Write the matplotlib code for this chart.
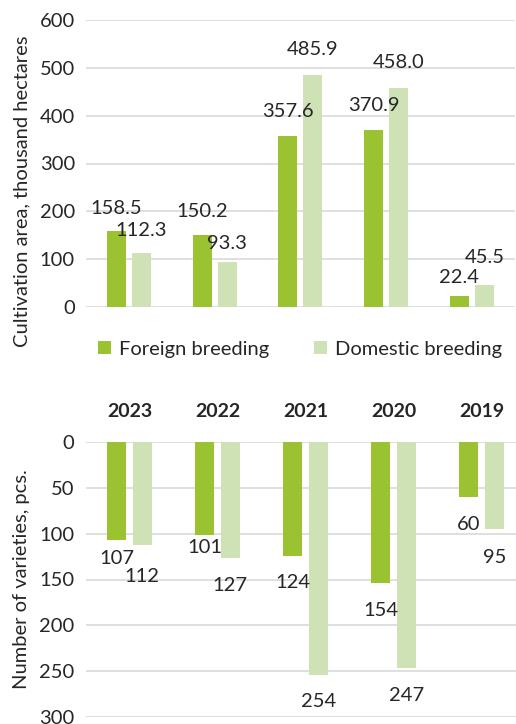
import matplotlib.pyplot as plt
import numpy as np

plt.rcParams['font.family'] = ['Lato', 'DejaVu Sans']

years = ['2023', '2022', '2021', '2020', '2019']
area_foreign = [158.5, 150.2, 357.6, 370.9, 22.4]
area_domestic = [112.3, 93.3, 485.9, 458.0, 45.5]
var_foreign = [107, 101, 124, 154, 60]
var_domestic = [112, 127, 254, 247, 95]

c_foreign = '#9bc231'
c_domestic = '#cfe2b5'
c_grid = '#d9d9d9'
c_text = '#262626'
fs = 14.5

# label offsets in pixels (label centre relative to bar end)
top_off_f = [23, 24, 24, 24, 19]
top_off_d = [23, 19, 25, 25, 28]
bot_off_f = [18, 13, 27, 27, 27]
bot_off_d = [32, 27, 27, 27, 28]

fig = plt.figure(figsize=(5.16, 7.24), dpi=100)
ax1 = fig.add_axes([86 / 516, 1 - 307 / 724, 428.75 / 516, 287 / 724])
ax2 = fig.add_axes([85.5 / 516, 1 - 717 / 724, 440 / 516, 275 / 724])

x = np.arange(len(years))
w = 0.22
d = 0.146

for ax in (ax1, ax2):
    for s in ax.spines.values():
        s.set_visible(False)
    ax.set_axisbelow(True)
    ax.grid(axis='y', color=c_grid, lw=1.2)
    ax.tick_params(length=0, labelsize=fs, labelcolor=c_text, pad=8)
    ax.set_xlim(-0.5, len(years) - 0.5)

# top chart
b1 = ax1.bar(x - d, area_foreign, w, color=c_foreign, label='Foreign breeding')
b2 = ax1.bar(x + d, area_domestic, w, color=c_domestic, label='Domestic breeding')
ax1.set_ylim(0, 600)
ax1.set_yticks(range(0, 601, 100))
ax1.set_xticks([])
ax1.set_ylabel('Cultivation area, thousand hectares', fontsize=fs, color=c_text)
ax1.yaxis.set_label_coords((30 - 86) / 428.75, (307 - 191) / 287)
for i in range(len(years)):
    ax1.annotate(f'{area_foreign[i]:.1f}', (x[i] - d, area_foreign[i]), xytext=(0, top_off_f[i]),
                 textcoords='offset pixels', ha='center', va='center', fontsize=fs, color=c_text)
    ax1.annotate(f'{area_domestic[i]:.1f}', (x[i] + d, area_domestic[i]), xytext=(0, top_off_d[i]),
                 textcoords='offset pixels', ha='center', va='center', fontsize=fs, color=c_text)
fig.legend(handles=[b1, b2], loc='center', bbox_to_anchor=(300 / 516, 1 - 349 / 724), ncol=2,
           frameon=False, fontsize=fs, handlelength=0.65, handleheight=0.65, columnspacing=2.2,
           handletextpad=0.4, labelcolor=c_text)

# bottom chart
ax2.bar(x - d, var_foreign, w, color=c_foreign)
ax2.bar(x + d, var_domestic, w, color=c_domestic)
ax2.set_ylim(300, 0)
ax2.set_yticks(range(0, 301, 50))
ax2.xaxis.tick_top()
ax2.set_xticks(x)
ax2.set_xticklabels(years, fontweight='bold', fontsize=14)
ax2.tick_params(axis='x', pad=16)
ax2.set_ylabel('Number of varieties, pcs.', fontsize=fs, color=c_text)
ax2.yaxis.set_label_coords((30 - 85.5) / 440, 0.5)
for i in range(len(years)):
    ax2.annotate(str(var_foreign[i]), (x[i] - d, var_foreign[i]), xytext=(0, -bot_off_f[i]),
                 textcoords='offset pixels', ha='center', va='center', fontsize=fs, color=c_text)
    ax2.annotate(str(var_domestic[i]), (x[i] + d, var_domestic[i]), xytext=(0, -bot_off_d[i]),
                 textcoords='offset pixels', ha='center', va='center', fontsize=fs, color=c_text)

fig.savefig('out.png', dpi=100)
